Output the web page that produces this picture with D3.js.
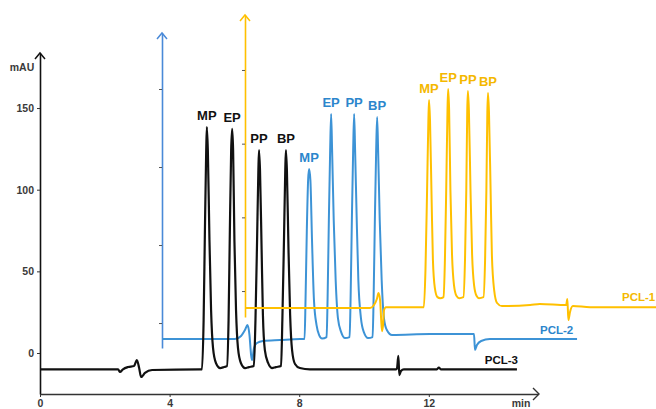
<!DOCTYPE html>
<html>
<head>
<meta charset="utf-8">
<script src="https://cdn.jsdelivr.net/npm/d3@7"></script>
<style>
  body { margin: 0; background: #fff; }
  svg { display: block; font-family: "Liberation Sans", Arial, sans-serif; }
</style>
</head>
<body>
<script>
// chromatogram data: [time (min), signal (mAU)]
var blackTrace = [
  [0,-10],[2.41,-10],[2.47,-11.6],[2.56,-10],[2.72,-8.6],[2.9,-8],[2.99,-4.3],[3.06,-9.2],[3.12,-14.7],[3.24,-12.2],[3.46,-10.4],[4.94,-10],
  [5.0,-10],[5.05,20.2],[5.09,75.3],[5.13,124.3],[5.15,138.4],[5.18,124.3],[5.23,69.2],[5.28,26.3],[5.34,3.1],[5.43,-6.1],[5.56,-9.2],[5.68,-8.6],
  [5.77,-8],[5.82,20.2],[5.86,75.3],[5.9,124.3],[5.93,137.2],[5.96,124.3],[6.0,69.2],[6.05,26.3],[6.11,3.1],[6.2,-6.1],[6.33,-9.2],[6.45,-8.6],
  [6.6,-8],[6.65,20.2],[6.7,69.2],[6.74,112],[6.76,124.3],[6.79,112],[6.84,63],[6.88,23.3],[6.94,1.8],[7.04,-6.1],[7.16,-9.2],[7.28,-8.6],
  [7.44,-8],[7.48,20.2],[7.53,69.2],[7.57,112],[7.59,124.3],[7.62,112],[7.67,63],[7.72,23.3],[7.78,1.8],[7.87,-6.7],[8.02,-9.2],[8.33,-10],
  [10.99,-10],[11.02,-9.2],[11.06,-1.8],[11.09,-13.5],[11.14,-11],[11.23,-10],
  [12.25,-10],[12.31,-8.9],[12.37,-10],[14.72,-10]
];
var blueTrace = [
  [0,-10.3],[2.25,-10.3],[2.44,-8.3],[2.56,-4.5],[2.64,-1.3],[2.7,-7.7],[2.75,-20.5],[2.78,-23.7],[2.84,-16],[2.93,-12.8],[3.12,-11.5],[3.64,-10.9],[4.26,-10.3],
  [4.4,-10.3],[4.43,14.7],[4.47,59.6],[4.51,91.7],[4.54,98.7],[4.58,91.7],[4.63,53.2],[4.69,14.7],[4.77,-1.3],[4.85,-7.7],[4.94,-9.9],
  [5.08,-9],[5.11,14.7],[5.15,66],[5.19,110.9],[5.22,134],[5.25,110.9],[5.3,66],[5.36,27.6],[5.43,3.2],[5.53,-5.8],[5.65,-9.6],
  [5.79,-9],[5.82,14.7],[5.86,66],[5.9,110.9],[5.93,134],[5.96,110.9],[6.01,66],[6.06,27.6],[6.14,3.2],[6.23,-5.8],[6.36,-9.6],
  [6.5,-9],[6.53,14.7],[6.57,66],[6.61,110.9],[6.64,132],[6.67,110.9],[6.72,66],[6.78,27.6],[6.85,3.2],[6.94,-4.5],[7.1,-7.7],
  [8.27,-7.1],[9.2,-7.1],[9.63,-7.1],[9.66,-17.3],[9.72,-14.1],[9.85,-11.5],[10.12,-10.3],[12.81,-10.3]
];
var yellowTrace = [
  [0,-11.5],[3.86,-11.5],[3.98,-9.5],[4.07,-5.4],[4.12,-1.4],[4.17,-6.1],[4.2,-18.3],[4.23,-27.2],[4.26,-23.1],[4.29,-12.9],[4.35,-10.9],[5.52,-10.9],
  [5.57,14.3],[5.62,68.6],[5.66,116],[5.68,129.6],[5.71,116],[5.76,61.8],[5.8,21],[5.86,2],[5.94,-4.1],[6.02,-4.8],
  [6.13,-4.1],[6.17,21],[6.21,68.6],[6.25,122.9],[6.27,137.1],[6.3,122.9],[6.34,68.6],[6.39,24.4],[6.45,4.1],[6.53,-3.4],[6.61,-4.8],
  [6.74,-4.1],[6.79,21],[6.83,68.6],[6.86,122.9],[6.88,135.7],[6.91,122.9],[6.96,68.6],[7.01,24.4],[7.07,4.1],[7.15,-3.4],[7.22,-4.8],
  [7.36,-4.1],[7.41,21],[7.45,68.6],[7.48,121.5],[7.5,134.4],[7.53,121.5],[7.58,68.6],[7.62,24.4],[7.69,0.7],[7.78,-8.1],[7.93,-10.2],
  [8.8,-9.5],[9.1,-8.8],[9.91,-9.5],[9.95,-5.4],[9.98,-19.7],[10.03,-14.3],[10.12,-10.2],[10.65,-10.9],[12.69,-10.9]
];

var peakNames = ["MP", "EP", "PP", "BP"];
var blackPeakTimes = [5.15, 5.93, 6.76, 7.59], blackPeakHeights = [138.4, 137.2, 124.3, 124.3];
var bluePeakTimes = [4.54, 5.22, 5.93, 6.64], bluePeakHeights = [98.7, 134, 134, 132];
var yellowPeakTimes = [5.68, 6.27, 6.88, 7.5], yellowPeakHeights = [129.6, 137.1, 135.7, 134.4];

var yTicks = [0, 50, 100, 150];
var xTicks = [0, 4, 8, 12];
var seriesNames = ["PCL-1", "PCL-2", "PCL-3"];

var W = 656, H = 409;
var BLACK = "#111", BLUE = "#3d93d6", BLUE_AX = "#4a8ad8", BLUE_TXT = "#2c86cc",
    YEL = "#ffc000", YEL_TXT = "#f4b800";

var svg = d3.select("body").append("svg").attr("width", W).attr("height", H);
svg.append("rect").attr("width", W).attr("height", H).attr("fill", "#fff");

// main axes
var x = d3.scaleLinear().domain([0, 15.37]).range([40, 538]);
var y = d3.scaleLinear().domain([-25.1, 183.7]).range([394, 53]);
// offset axes for the stacked runs
var xBlue = d3.scaleLinear().domain([0, 10]).range([162, 486]);
var yBlue = d3.scaleLinear().domain([-16.0, 185.9]).range([348, 33]);
var xYel = d3.scaleLinear().domain([0, 10]).range([245, 569]);
var yYel = d3.scaleLinear().domain([-17.6, 187.3]).range([317, 15]);

function arrowUp(g, px, py, col) {
  g.append("path").attr("d", "M" + (px - 5) + "," + (py + 6) + "L" + px + "," + py + "L" + (px + 5) + "," + (py + 6))
    .attr("fill", "none").attr("stroke", col).attr("stroke-width", 1.5);
}

// yellow axis
var gy = svg.append("g").attr("transform", "translate(" + xYel(0) + ",0)")
  .call(d3.axisLeft(yYel).tickValues(yTicks).tickFormat("").tickSize(3).tickSizeOuter(0));
gy.select(".domain").attr("stroke", YEL).attr("stroke-width", 1.6);
gy.selectAll(".tick line").attr("stroke", "#555");
arrowUp(svg, xYel(0), yYel.range()[1], YEL);

// blue axis
var gb = svg.append("g").attr("transform", "translate(" + xBlue(0) + ",0)")
  .call(d3.axisLeft(yBlue).tickValues(yTicks).tickFormat("").tickSize(3).tickSizeOuter(0));
gb.select(".domain").attr("stroke", BLUE_AX).attr("stroke-width", 1.6);
gb.selectAll(".tick line").attr("stroke", "#555");
arrowUp(svg, xBlue(0), yBlue.range()[1], BLUE_AX);

// main y axis
var gm = svg.append("g").attr("transform", "translate(" + x(0) + ",0)")
  .call(d3.axisLeft(y).tickValues(yTicks).tickSize(3).tickSizeOuter(0).tickPadding(3));
gm.select(".domain").attr("stroke", BLACK).attr("stroke-width", 1.6);
gm.selectAll(".tick line").attr("stroke", "#333");
gm.selectAll(".tick text").attr("font-size", 10.5).attr("font-weight", "bold").attr("fill", "#3a3a3a")
  .attr("font-family", "Liberation Sans, Arial, sans-serif");
arrowUp(svg, x(0), y.range()[1], BLACK);
svg.append("text").attr("x", 22).attr("y", 71).attr("text-anchor", "middle")
  .attr("font-size", 10.5).attr("font-weight", "bold").attr("fill", "#3a3a3a").text("mAU");

// x axis
var gx = svg.append("g").attr("transform", "translate(0," + y.range()[0] + ")")
  .call(d3.axisBottom(x).tickValues(xTicks).tickSize(3).tickSizeOuter(0).tickPadding(2.5));
gx.select(".domain").attr("stroke", "#333").attr("stroke-width", 1.4);
gx.selectAll(".tick line").attr("stroke", "#333");
gx.selectAll(".tick text").attr("font-size", 10.5).attr("font-weight", "bold").attr("fill", "#3a3a3a")
  .attr("font-family", "Liberation Sans, Arial, sans-serif");
svg.append("path").attr("d", "M533,388L539,394L533,400").attr("fill", "none").attr("stroke", "#333").attr("stroke-width", 1.4);
svg.append("text").attr("x", 521).attr("y", 407).attr("text-anchor", "middle")
  .attr("font-size", 10.5).attr("font-weight", "bold").attr("fill", "#3a3a3a").text("min");

// traces
function drawTrace(data, sx, sy, col, w) {
  var line = d3.line().x(function (d) { return sx(d[0]); }).y(function (d) { return sy(d[1]); })
    .curve(d3.curveMonotoneX);
  svg.append("path").datum(data).attr("d", line).attr("fill", "none")
    .attr("stroke", col).attr("stroke-width", w).attr("stroke-linejoin", "round");
}
drawTrace(blueTrace, xBlue, yBlue, BLUE, 2);
drawTrace(blackTrace, x, y, BLACK, 2.2);
drawTrace(yellowTrace, xYel, yYel, YEL, 2);

// peak labels
function peakLabels(times, heights, sx, sy, col) {
  svg.append("g").selectAll("text").data(peakNames).enter().append("text")
    .attr("x", function (d, i) { return sx(times[i]); })
    .attr("y", function (d, i) { return sy(heights[i]) - 7; })
    .attr("text-anchor", "middle").attr("font-size", 13).attr("font-weight", "bold")
    .attr("fill", col).text(function (d) { return d; });
}
peakLabels(blackPeakTimes, blackPeakHeights, x, y, BLACK);
peakLabels(bluePeakTimes, bluePeakHeights, xBlue, yBlue, BLUE_TXT);
peakLabels(yellowPeakTimes, yellowPeakHeights, xYel, yYel, YEL_TXT);

// series names
svg.append("text").attr("x", 622).attr("y", 301).attr("font-size", 11.5).attr("font-weight", "bold")
  .attr("fill", YEL_TXT).text(seriesNames[0]);
svg.append("text").attr("x", 540).attr("y", 334).attr("font-size", 11.5).attr("font-weight", "bold")
  .attr("fill", BLUE_TXT).text(seriesNames[1]);
svg.append("text").attr("x", 518).attr("y", 364).attr("text-anchor", "end").attr("font-size", 11.5).attr("font-weight", "bold")
  .attr("fill", BLACK).text(seriesNames[2]);
</script>
</body>
</html>
